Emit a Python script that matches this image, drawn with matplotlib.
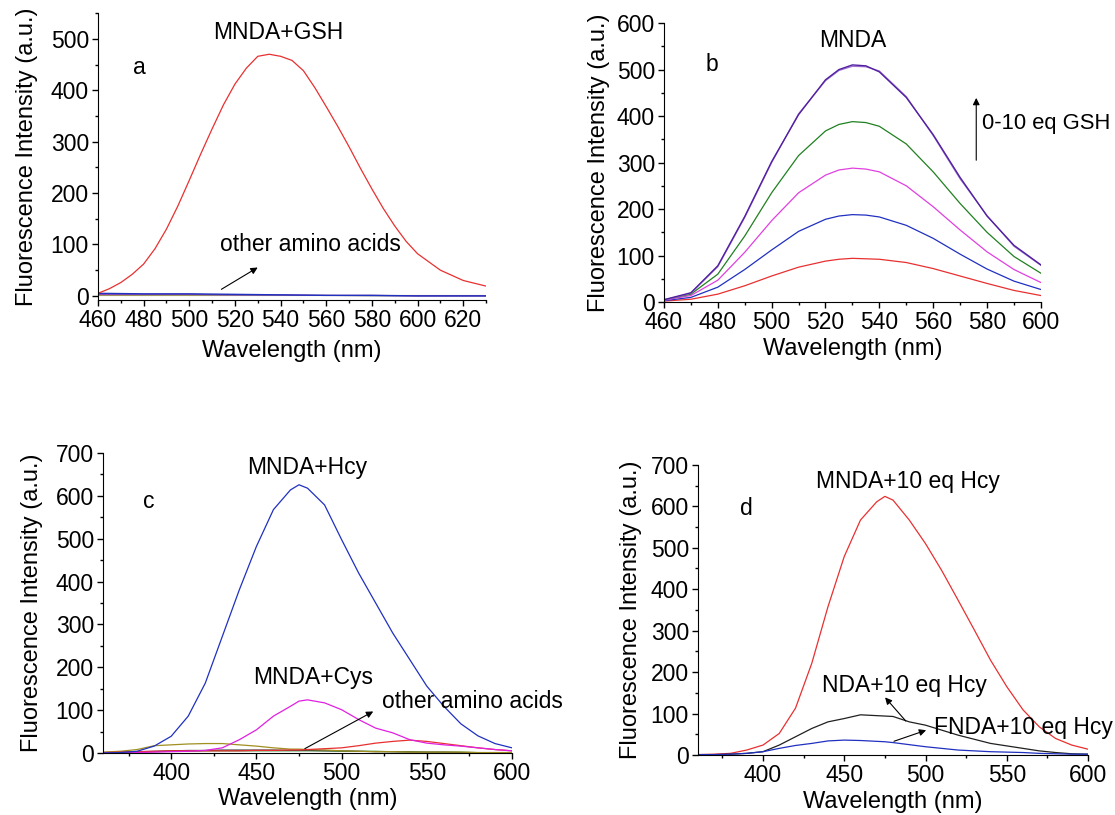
import matplotlib
matplotlib.use("Agg")
import matplotlib.pyplot as plt
from matplotlib.ticker import MultipleLocator

plt.rcParams["font.family"] = ["Liberation Sans", "DejaVu Sans"]

# ---- panel a: MNDA + GSH vs other amino acids ----
wl_a = [460, 465, 470, 475, 480, 485, 490, 495, 500, 505, 510, 515, 520, 525, 530, 535, 540, 545,
        550, 555, 560, 565, 570, 575, 580, 585, 590, 595, 600, 610, 620, 630]
gsh_a = [5, 14, 26, 42, 62, 92, 130, 175, 225, 276, 325, 372, 412, 443, 466, 470, 466, 458,
         438, 405, 368, 330, 290, 248, 208, 170, 136, 106, 82, 50, 30, 19]
wl_a_other = [460, 480, 500, 520, 540, 560, 580, 600, 630]
other_a_blue = [5, 4, 4, 3, 2, 1, 1, 0, 0]
other_a_purple = [3, 3, 3, 2, 2, 1, 1, 0, 0]
other_a_olive = [1, 1, 1, 1, 1, 1, 1, 1, 1]
other_a_gray = [2, 2, 2, 1, 1, 1, 0, 0, 0]

# ---- panel b: MNDA titration 0-10 eq GSH ----
wl_b = [460, 470, 480, 490, 500, 510, 520, 525, 530, 535, 540, 550, 560, 570, 580, 590, 600]
b_red = [2, 6, 17, 35, 56, 75, 88, 92, 94, 93, 92, 85, 72, 56, 40, 25, 14]
b_blue = [3, 10, 32, 70, 112, 152, 178, 185, 188, 187, 183, 165, 137, 103, 71, 45, 27]
b_magenta = [4, 14, 47, 107, 175, 235, 273, 284, 288, 286, 280, 250, 205, 155, 108, 70, 42]
b_green = [5, 17, 60, 142, 235, 315, 368, 382, 388, 386, 378, 340, 280, 212, 150, 98, 62]
b_purple = [5, 20, 78, 184, 302, 403, 478, 500, 510, 508, 495, 440, 360, 268, 185, 122, 80]
b_violet = [4, 19, 76, 182, 300, 405, 476, 498, 507, 506, 497, 442, 358, 265, 186, 120, 79]

# ---- panel c: MNDA + Hcy / Cys / others ----
wl_c = [360, 370, 380, 390, 400, 410, 420, 430, 440, 450, 460, 470, 475, 480, 490, 500, 510, 520,
        530, 540, 550, 560, 570, 580, 590, 600]
c_hcy = [0, 1, 4, 16, 39, 86, 163, 272, 381, 482, 568, 614, 626, 618, 579, 498, 420, 350,
         280, 218, 156, 109, 68, 40, 22, 12]
c_cys = [0, 0, 1, 2, 3, 4, 6, 12, 31, 54, 86, 109, 121, 124, 117, 101, 78, 58,
         47, 31, 23, 19, 16, 12, 8, 5]
c_olive = [2, 4, 8, 17, 19, 21, 22, 22, 19, 16, 12, 9, 9, 8, 7, 5, 4, 3,
           3, 2, 2, 2, 2, 1, 1, 1]
c_red = [1, 2, 3, 4, 5, 5, 5, 5, 5, 6, 6, 7, 7, 8, 10, 12, 17, 23,
         27, 30, 27, 22, 17, 12, 8, 5]
c_black = [1, 2, 3, 4, 5, 6, 6, 7, 7, 7, 7, 6, 6, 6, 5, 5, 4, 3,
           3, 2, 2, 2, 1, 1, 1, 1]
c_green = [0, 1, 2, 3, 4, 4, 5, 5, 5, 5, 5, 5, 5, 5, 5, 4, 4, 4,
           3, 3, 2, 2, 2, 1, 1, 1]

# ---- panel d: MNDA / NDA / FNDA + 10 eq Hcy ----
wl_d = [360, 370, 380, 390, 400, 410, 420, 430, 440, 450, 460, 470, 475, 480, 490, 500, 510, 520,
        530, 540, 550, 560, 570, 580, 590, 600]
d_mnda = [1, 2, 4, 12, 24, 52, 113, 221, 358, 479, 567, 611, 624, 615, 567, 510, 445, 374,
          302, 229, 165, 109, 68, 40, 24, 14]
d_nda = [1, 1, 2, 4, 8, 24, 44, 64, 80, 88, 97, 95, 94, 93, 80, 72, 60, 48,
         38, 28, 22, 16, 10, 6, 3, 2]
d_fnda = [1, 1, 2, 4, 8, 16, 23, 28, 34, 36, 35, 33, 32, 30, 25, 20, 16, 12,
          10, 8, 7, 6, 4, 3, 2, 2]

fig = plt.figure(figsize=(11.15, 8.15), dpi=100)
ax_a = fig.add_axes([0.0879, 0.6319, 0.348, 0.352])
ax_b = fig.add_axes([0.5955, 0.6294, 0.338, 0.3423])
ax_c = fig.add_axes([0.0924, 0.0761, 0.3668, 0.368])
ax_d = fig.add_axes([0.626, 0.0736, 0.3498, 0.356])

tick_fs = 16.5
label_fs = 17
text_fs = 16.5


def style(ax, xlim, ylim, xmaj, xmin, ymaj, ymin, xpad, ypad):
    ax.set_xlim(*xlim)
    ax.set_ylim(*ylim)
    ax.spines["top"].set_visible(False)
    ax.spines["right"].set_visible(False)
    ax.xaxis.set_major_locator(MultipleLocator(xmaj))
    ax.xaxis.set_minor_locator(MultipleLocator(xmin))
    ax.yaxis.set_major_locator(MultipleLocator(ymaj))
    ax.yaxis.set_minor_locator(MultipleLocator(ymin))
    ax.tick_params(which="major", length=4.5, width=1, labelsize=tick_fs, pad=2)
    ax.tick_params(which="minor", length=2.5, width=1)
    ax.set_xlabel("Wavelength (nm)", fontsize=label_fs, labelpad=xpad)
    ax.set_ylabel("Fluorescence Intensity (a.u.)", fontsize=label_fs, labelpad=ypad)


arrow = dict(arrowstyle="-|>", color="black", lw=0.8, mutation_scale=10)

# panel a
ax_a.plot(wl_a_other, other_a_olive, color="#b0a040", lw=0.8)
ax_a.plot(wl_a_other, other_a_gray, color="#888888", lw=0.8)
ax_a.plot(wl_a_other, other_a_purple, color="#9040b0", lw=0.8)
ax_a.plot(wl_a_other, other_a_blue, color="#2030c0", lw=1.0)
ax_a.plot(wl_a, gsh_a, color="#e83030", lw=0.9)
style(ax_a, (460, 630), (-8, 550), 20, 10, 100, 50, 6, 9)
ax_a.text(539, 513, "MNDA+GSH", fontsize=text_fs, ha="center", va="center")
ax_a.text(478, 445, "a", fontsize=text_fs, ha="center", va="center")
ax_a.text(553, 99, "other amino acids", fontsize=text_fs, ha="center", va="center")
ax_a.annotate("", xy=(531, 58), xytext=(513, 10), arrowprops=arrow)

# panel b
ax_b.plot(wl_b, b_red, color="#e83030", lw=0.9)
ax_b.plot(wl_b, b_blue, color="#2030c0", lw=0.9)
ax_b.plot(wl_b, b_magenta, color="#e040e0", lw=0.9)
ax_b.plot(wl_b, b_green, color="#208020", lw=0.9)
ax_b.plot(wl_b, b_violet, color="#a070d0", lw=0.9)
ax_b.plot(wl_b, b_purple, color="#5020a0", lw=1.0)
style(ax_b, (460, 600), (0, 600), 20, 10, 100, 50, 2.5, 5)
ax_b.text(530, 563, "MNDA", fontsize=text_fs, ha="center", va="center")
ax_b.text(478, 510, "b", fontsize=text_fs, ha="center", va="center")
ax_b.text(578, 385, "0-10 eq GSH", fontsize=15.8, ha="left", va="center", clip_on=False)
ax_b.annotate("", xy=(576, 445), xytext=(576, 299), arrowprops=arrow)

# panel c
ax_c.plot(wl_c, c_green, color="#208020", lw=0.8)
ax_c.plot(wl_c, c_black, color="#404040", lw=0.8)
ax_c.plot(wl_c, c_olive, color="#a09020", lw=0.9)
ax_c.plot(wl_c, c_red, color="#e83030", lw=0.9)
ax_c.plot(wl_c, c_cys, color="#e020e0", lw=0.9)
ax_c.plot(wl_c, c_hcy, color="#2030c0", lw=0.9)
style(ax_c, (360, 600), (0, 700), 50, 25, 100, 50, 2.5, 9)
ax_c.text(480, 667, "MNDA+Hcy", fontsize=text_fs, ha="center", va="center")
ax_c.text(387, 586, "c", fontsize=text_fs, ha="center", va="center")
ax_c.text(483, 175, "MNDA+Cys", fontsize=text_fs, ha="center", va="center")
ax_c.text(524, 119, "other amino acids", fontsize=text_fs, ha="left", va="center", clip_on=False)
ax_c.annotate("", xy=(520, 100), xytext=(477, 7), arrowprops=arrow)

# panel d
ax_d.plot(wl_d, d_mnda, color="#e83030", lw=0.9)
ax_d.plot(wl_d, d_nda, color="#202020", lw=0.9)
ax_d.plot(wl_d, d_fnda, color="#2030c0", lw=0.9)
style(ax_d, (360, 600), (0, 700), 50, 25, 100, 50, 2.5, 6)
ax_d.text(489, 661, "MNDA+10 eq Hcy", fontsize=text_fs, ha="center", va="center")
ax_d.text(390, 594, "d", fontsize=text_fs, ha="center", va="center")
ax_d.text(487, 168, "NDA+10 eq Hcy", fontsize=text_fs, ha="center", va="center")
ax_d.text(505, 67, "FNDA+10 eq Hcy", fontsize=text_fs, ha="left", va="center", clip_on=False)
ax_d.annotate("", xy=(474, 144), xytext=(489, 77), arrowprops=arrow)
ax_d.annotate("", xy=(502, 62), xytext=(479, 31), arrowprops=arrow)

fig.savefig("out.png", dpi=100)
